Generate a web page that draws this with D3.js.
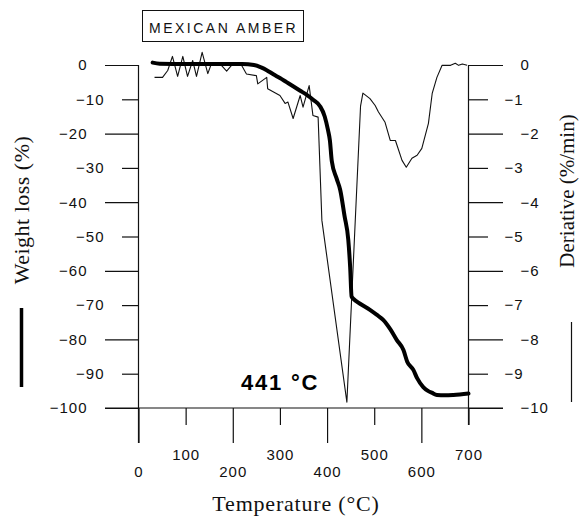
<!DOCTYPE html>
<html>
<head>
<meta charset="utf-8">
<script src="https://cdn.jsdelivr.net/npm/d3@7"></script>
<style>
  body { margin: 0; background: #fff; }
  svg { display: block; }
  .tick text { font-family: "Liberation Sans", Arial, sans-serif; font-size: 15px; letter-spacing: 1px; fill: #111; }
  .serif { font-family: "Liberation Serif", "Times New Roman", serif; font-size: 22px; fill: #111; }
</style>
</head>
<body>
<div id="chart"></div>
<script>
  // weight loss (thick curve)
  var tempW = [30, 45, 100, 160, 220, 245, 260, 272, 286, 300, 314, 328, 343, 357, 371, 385, 395, 402, 406, 410,
               420, 428, 437, 445, 449, 452, 456, 470, 491, 505, 519, 534, 548, 562, 570, 583, 591, 604, 614, 623,
               633, 650, 668, 700];
  var weightLoss = [0.7, 0.4, 0.3, 0.3, 0.3, 0, -0.7, -1.5, -2.7, -3.8, -5, -6.2, -7.5, -8.7, -10.2, -12, -15, -19, -22, -28,
                    -33, -36.5, -44, -51, -59, -67.5, -68.2, -69.6, -71.4, -72.8, -74.3, -77, -80.2, -83.1, -86.5, -88.9, -91.3, -93.9, -95, -95.6,
                    -96.2, -96.3, -96.2, -95.8];

  // derivative (thin curve)
  var tempD = [34, 51, 62, 72, 83, 94, 104, 115, 123, 135, 147, 155, 172, 187, 200, 218, 229, 250, 253, 272,
               274, 300, 311, 317, 328, 343, 349, 362, 370, 381, 389, 442, 471, 476, 491, 502, 509, 523, 534, 545,
               559, 568, 580, 591, 601, 615, 623, 633, 644, 662, 672, 679, 687, 697];
  var derivative = [-0.36, -0.36, -0.16, 0.25, -0.33, 0.25, -0.33, 0.13, -0.33, 0.37, -0.25, 0.05, 0.05, -0.18, 0.03, 0.01, -0.26, -0.31, -0.55, -0.36,
                    -0.69, -0.89, -1.12, -1.08, -1.56, -0.89, -1.23, -0.6, -1.47, -1.52, -4.53, -9.83, -1.2, -0.82, -0.98, -1.18, -1.37, -1.67, -2.2, -2.2,
                    -2.78, -2.98, -2.72, -2.63, -2.43, -1.7, -0.83, -0.36, -0.01, -0.01, 0.05, -0.01, 0.03, -0.01];

  var weightTicks = [0, -10, -20, -30, -40, -50, -60, -70, -80, -90, -100];
  var derivTicks = [0, -1, -2, -3, -4, -5, -6, -7, -8, -9, -10];
  var tempTicks = [0, 100, 200, 300, 400, 500, 600, 700];

  var title = "MEXICAN AMBER";
  var peakLabel = "441 °C";

  var width = 580, height = 518;

  var x = d3.scaleLinear().domain([0, 700]).range([138.5, 468.5]);
  var yW = d3.scaleLinear().domain([0, -100]).range([65, 408]);
  var yD = d3.scaleLinear().domain([0, -10]).range([65, 408]);

  var svg = d3.select("#chart").append("svg")
      .attr("width", width)
      .attr("height", height);

  // left axis: long ticks on even values, short on odd, labels staggered
  var gl = svg.append("g")
      .attr("transform", "translate(" + x(0) + ",0)")
      .call(d3.axisLeft(yW).tickValues(weightTicks).tickSizeOuter(0).tickFormat(d3.format("d")));
  gl.select(".domain").remove();
  gl.selectAll(".tick").each(function(d, i) {
    var even = i % 2 === 0;
    d3.select(this).select("line").attr("x2", even ? -33.5 : -16.5).attr("stroke", "#111").attr("stroke-width", 1.2);
    d3.select(this).select("text").attr("x", even ? -51 : -34);
  });

  // right axis
  var gr = svg.append("g")
      .attr("transform", "translate(" + x(700) + ",0)")
      .call(d3.axisRight(yD).tickValues(derivTicks).tickSizeOuter(0).tickFormat(d3.format("d")));
  gr.select(".domain").remove();
  gr.selectAll(".tick").each(function(d, i) {
    var even = i % 2 === 0;
    d3.select(this).select("line").attr("x2", even ? 34.5 : 19.5).attr("stroke", "#111").attr("stroke-width", 1.2);
    d3.select(this).select("text").attr("x", even ? 52 : 36);
  });

  // bottom axis
  var gb = svg.append("g")
      .attr("transform", "translate(0," + yW(-100) + ")")
      .call(d3.axisBottom(x).tickValues(tempTicks).tickSizeOuter(0).tickFormat(d3.format("d")));
  gb.select(".domain").remove();
  gb.selectAll(".tick").each(function(d, i) {
    var even = i % 2 === 0;
    d3.select(this).select("line").attr("y2", even ? 35 : 17).attr("stroke", "#111").attr("stroke-width", 1.2);
    d3.select(this).select("text").attr("dy", null).attr("y", even ? 69 : 52);
  });

  // axis lines
  svg.append("line")
      .attr("x1", x(0)).attr("x2", x(0))
      .attr("y1", yW(0)).attr("y2", yW(-100) + 35)
      .attr("stroke", "#111").attr("stroke-width", 1.2);
  svg.append("line")
      .attr("x1", x(700)).attr("x2", x(700))
      .attr("y1", yD(0)).attr("y2", yW(-100) + 17)
      .attr("stroke", "#111").attr("stroke-width", 1.2);
  svg.append("line")
      .attr("x1", x(0) - 33.5).attr("x2", x(700) + 34.5)
      .attr("y1", yW(-100)).attr("y2", yW(-100))
      .attr("stroke", "#111").attr("stroke-width", 1.2);

  // curves
  var lineD = d3.line()
      .x(function(d, i) { return x(tempD[i]); })
      .y(function(d) { return yD(d); });
  svg.append("path")
      .datum(derivative)
      .attr("d", lineD)
      .attr("fill", "none")
      .attr("stroke", "#111")
      .attr("stroke-width", 1.1)
      .attr("stroke-linejoin", "round");

  var lineW = d3.line()
      .x(function(d, i) { return x(tempW[i]); })
      .y(function(d) { return yW(d); })
      .curve(d3.curveMonotoneX);
  svg.append("path")
      .datum(weightLoss)
      .attr("d", lineW)
      .attr("fill", "none")
      .attr("stroke", "#000")
      .attr("stroke-width", 4)
      .attr("stroke-linejoin", "round")
      .attr("stroke-linecap", "round");

  // title box
  svg.append("rect")
      .attr("x", 142.5).attr("y", 10.5)
      .attr("width", 161).attr("height", 31)
      .attr("fill", "none").attr("stroke", "#111").attr("stroke-width", 1);
  svg.append("text")
      .attr("x", 149).attr("y", 33)
      .style("font-family", "Liberation Sans, Arial, sans-serif")
      .style("font-size", "14px")
      .style("letter-spacing", "2.5px")
      .attr("fill", "#111")
      .text(title);

  // peak annotation
  svg.append("text")
      .attr("x", 241).attr("y", 390)
      .style("font-family", "Liberation Sans, Arial, sans-serif")
      .style("font-size", "22px")
      .style("font-weight", "bold")
      .style("letter-spacing", "1.8px")
      .attr("fill", "#000")
      .text(peakLabel);

  // axis titles
  svg.append("text")
      .attr("class", "serif")
      .attr("text-anchor", "middle")
      .attr("x", 296).attr("y", 511)
      .style("letter-spacing", "0.8px")
      .text("Temperature (°C)");
  svg.append("text")
      .attr("class", "serif")
      .attr("text-anchor", "middle")
      .attr("transform", "translate(29,210) rotate(-90)")
      .style("letter-spacing", "0.5px")
      .text("Weight loss (%)");
  svg.append("text")
      .attr("class", "serif")
      .attr("text-anchor", "middle")
      .attr("transform", "translate(574,191) rotate(-90)")
      .style("font-size", "21px")
      .text("Deriative (%/min)");

  // legend marks next to the axis titles
  svg.append("line")
      .attr("x1", 21.5).attr("x2", 21.5).attr("y1", 308).attr("y2", 387)
      .attr("stroke", "#000").attr("stroke-width", 3.5);
  svg.append("line")
      .attr("x1", 571.5).attr("x2", 571.5).attr("y1", 322).attr("y2", 402)
      .attr("stroke", "#111").attr("stroke-width", 1.2);
</script>
</body>
</html>
